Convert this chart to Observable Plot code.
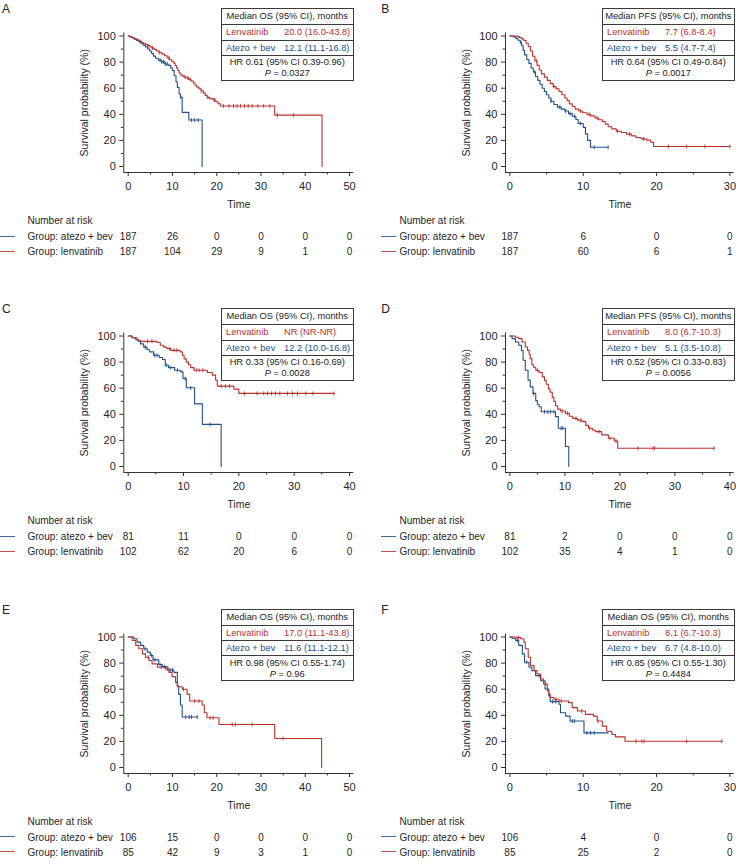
<!DOCTYPE html>
<html><head><meta charset="utf-8">
<script src="https://cdn.jsdelivr.net/npm/d3@7"></script>
<script src="https://cdn.jsdelivr.net/npm/@observablehq/plot@0.6"></script>
<style>
body{margin:0;background:#fff;font-family:"Liberation Sans",Arial,sans-serif;}
#root{position:relative;width:736px;height:862px;overflow:hidden;background:#fff;}
.panel{position:absolute;width:368px;height:300px;}
.panel svg{position:absolute;left:0;top:0;overflow:visible;}
.letter{position:absolute;top:3px;font-size:12px;line-height:12px;color:#222;}
.box{position:absolute;top:8.3px;width:132.5px;box-sizing:border-box;border:1px solid #3a3a3a;background:#fff;font-size:9.3px;color:#222;}
.box .r{position:relative;border-top:1px solid #3a3a3a;white-space:nowrap;}
.box .h{border-top:none;height:15px;line-height:15px;text-align:center;}
.box .l{height:14.7px;line-height:14.7px;}
.box .a{height:14px;line-height:14px;}
.box .nm{position:absolute;left:4px;}
.box .v{position:absolute;left:62px;}
.box .hr{height:25px;text-align:center;line-height:10.6px;padding-top:1.5px;box-sizing:border-box;}
.sw{position:absolute;width:15px;height:0;border-top:1.2px solid;}
</style></head><body><div id="root"></div>
<script>
// ---------- colours ----------
const RED = "#b9322e", BLUE = "#21508b";

// ---------- tick labels ----------
const ticks50 = [0, 10, 20, 30, 40, 50], minor50 = [5, 15, 25, 35, 45];
const ticks40 = [0, 10, 20, 30, 40], minor40 = [5, 15, 25, 35];
const ticks30 = [0, 10, 20, 30], minor30 = [5, 15, 25];
const yTicks = [0, 20, 40, 60, 80, 100], yMinor = [10, 30, 50, 70, 90];
const groupLabels = ["Group: atezo + bev", "Group: lenvatinib"];

// ---------- Panel A (OS) ----------
const aLen = [[0,100],[0.4,99.5],[0.8,98.9],[1.2,98.3],[1.6,97.6],[2.1,96.9],[2.6,96.1],[3.0,95.2],[3.4,94.4],[3.9,93.5],[4.4,92.6],[4.9,91.7],[5.4,90.7],[5.9,89.6],[6.4,88.5],[7.0,87.3],[7.6,86.1],[8.2,84.9],[8.8,83.3],[9.3,81.8],[9.8,80.6],[10.3,79.2],[10.6,77.4],[10.9,75.5],[11.2,73.6],[11.5,71.7],[11.9,70.0],[12.4,68.8],[13.0,67.9],[13.6,66.8],[14.2,65.5],[14.7,64.0],[15.1,62.3],[15.5,60.8],[16.0,59.5],[16.5,58.0],[17.0,56.2],[17.4,54.5],[17.8,53.0],[18.4,52.0],[19.2,51.0],[19.8,49.6],[20.3,48.1],[20.8,46.4],[33.1,39.4],[43.8,0]];
const aAtz = [[0,100],[0.4,99.3],[0.9,98.5],[1.4,97.6],[1.9,96.6],[2.4,95.5],[2.9,94.3],[3.4,93.0],[3.9,91.6],[4.4,90.0],[4.9,88.3],[5.3,86.5],[5.7,84.6],[6.2,83.0],[6.8,81.5],[7.5,80.2],[8.3,78.6],[9.0,77.5],[9.6,75.5],[10.0,73.5],[10.4,69.5],[10.8,65.0],[11.1,60.6],[11.5,55.5],[11.8,53.0],[12.2,41.5],[13.7,35.6],[16.7,0]];
const aLenCens = [4.5,5.5,7.0,9.2,12.8,13.5,14.0,16.5,18.0,19.5,21.5,22.8,23.8,24.6,25.4,26.3,27.1,28.0,29.3,30.6,32.0,33.7,37.4];
const aAtzCens = [7.2,7.6,8.0,8.4,8.8,11.9,14.3,15.0,15.8];
const aRiskAtz = [187, 26, 0, 0, 0, 0];
const aRiskLen = [187, 104, 29, 9, 1, 0];
const aStats = ["Median OS (95% CI), months", "20.0 (16.0-43.8)", "12.1 (11.1-16.8)", "HR 0.61 (95% CI 0.39-0.96)", "0.0327"];

// ---------- Panel B (PFS) ----------
const bLen = [[0,100],[1.0,99.5],[1.3,98.9],[1.6,97.8],[1.9,96.5],[2.2,94.5],[2.5,92.0],[2.8,88.5],[3.1,84.5],[3.4,81.0],[3.7,77.5],[4.0,74.0],[4.3,71.0],[4.7,68.5],[5.1,66.0],[5.5,63.5],[5.9,61.2],[6.3,59.5],[6.7,57.5],[7.1,55.0],[7.5,52.5],[7.8,50.5],[8.1,48.0],[8.5,46.0],[8.9,44.0],[9.4,42.5],[9.9,41.2],[10.5,40.0],[11.0,38.8],[11.6,37.2],[12.1,35.8],[12.6,34.5],[13.0,32.5],[13.4,30.5],[13.9,28.8],[14.5,27.0],[15.2,26.0],[15.9,24.8],[16.6,23.5],[17.2,22.2],[17.9,21.2],[18.6,20.2],[19.2,18.5],[19.6,15.3],[30.0,15.3]];
const bAtz = [[0,100],[0.5,99.3],[0.8,98.2],[1.1,96.8],[1.4,95.0],[1.6,92.5],[1.8,89.0],[2.0,85.5],[2.3,82.0],[2.6,79.0],[2.9,75.5],[3.2,72.5],[3.5,69.0],[3.8,66.0],[4.1,63.0],[4.4,60.0],[4.7,57.5],[5.0,55.0],[5.3,52.5],[5.6,50.0],[6.0,47.5],[6.5,45.5],[7.0,44.0],[7.5,42.5],[8.0,40.5],[8.5,38.5],[9.0,36.0],[9.3,33.0],[10.0,30.0],[10.3,25.0],[10.6,20.0],[11.0,14.8],[13.4,14.8]];
const bLenCens = [3.6,6.0,9.6,10.8,11.9,14.7,16.3,18.2,21.6,24.1,26.6,30.0];
const bAtzCens = [1.5,3.3,5.6,6.8,7.6,8.2,8.8,9.6,11.5,13.4];
const bRiskAtz = [187, 6, 0, 0];
const bRiskLen = [187, 60, 6, 1];
const bStats = ["Median PFS (95% CI), months", "7.7 (6.8-8.4)", "5.5 (4.7-7.4)", "HR 0.64 (95% CI 0.49-0.84)", "0.0017"];

// ---------- Panel C (OS) ----------
const cLen = [[0,100],[0.7,98.7],[1.6,96.7],[2.2,95.9],[5.2,95.0],[5.8,92.9],[6.4,91.5],[7.0,90.3],[7.7,89.0],[9.4,87.8],[9.8,85.2],[10.1,82.5],[10.5,80.0],[10.9,78.0],[11.3,75.8],[11.9,73.8],[14.3,72.0],[15.2,70.0],[15.8,66.2],[16.1,61.6],[19.1,59.3],[20.0,56.0],[37.2,56.0]];
const cAtz = [[0,100],[0.7,98.7],[1.3,97.5],[1.8,96.0],[2.2,94.0],[2.8,91.5],[3.4,89.5],[3.9,87.8],[4.6,85.2],[5.6,83.5],[6.2,82.0],[6.7,77.6],[7.3,75.8],[8.4,73.8],[9.5,72.5],[9.9,67.4],[10.5,60.3],[12.0,48.0],[13.4,32.3],[16.8,0]];
const cLenCens = [3.5,4.3,7.5,8.3,8.8,12.3,12.8,13.5,16.8,17.6,18.3,21.0,23.3,24.5,25.2,25.9,26.6,27.4,28.8,29.7,30.6,32.1,33.4,37.2];
const cAtzCens = [3.1,4.8,5.2,6.9,7.6,8.9,10.3,11.3,14.8];
const cRiskAtz = [81, 11, 0, 0, 0];
const cRiskLen = [102, 62, 20, 6, 0];
const cStats = ["Median OS (95% CI), months", "NR (NR-NR)", "12.2 (10.0-16.8)", "HR 0.33 (95% CI 0.16-0.69)", "0.0028"];

// ---------- Panel D (PFS) ----------
const dLen = [[0,100],[1.0,99.0],[1.6,98.0],[2.2,95.4],[2.8,91.6],[3.2,89.0],[3.5,86.0],[3.7,82.7],[4.0,78.0],[4.3,76.0],[4.7,73.8],[5.3,72.0],[5.9,68.7],[6.3,66.0],[6.6,63.0],[7.0,59.5],[7.3,57.0],[7.7,53.0],[8.0,50.0],[8.3,46.5],[8.7,44.0],[9.2,42.5],[10.1,40.7],[10.8,38.5],[11.4,36.9],[12.3,35.5],[13.1,34.4],[13.8,31.5],[14.3,29.3],[15.0,28.0],[15.5,26.7],[16.7,24.2],[17.9,21.6],[19.0,19.5],[19.6,14.0],[37.1,14.0]];
const dAtz = [[0,100],[0.4,98.0],[1.0,95.4],[1.6,92.9],[2.1,89.0],[2.4,81.4],[2.8,73.8],[3.3,66.2],[3.7,61.0],[4.2,56.0],[4.7,50.5],[5.0,47.5],[5.3,45.8],[5.7,42.0],[8.3,38.2],[8.8,29.3],[10.1,15.3],[10.7,0]];
const dLenCens = [5.0,9.5,10.5,12.0,12.8,14.5,16.2,18.2,19.3,23.3,26.0,26.3,37.1];
const dAtzCens = [4.3,6.3,6.9,7.4,8.0,9.3,9.6];
const dRiskAtz = [81, 2, 0, 0, 0];
const dRiskLen = [102, 35, 4, 1, 0];
const dStats = ["Median PFS (95% CI), months", "8.0 (6.7-10.3)", "5.1 (3.5-10.8)", "HR 0.52 (95% CI 0.33-0.83)", "0.0056"];

// ---------- Panel E (OS) ----------
const eLen = [[0,100],[0.9,97.4],[1.7,93.6],[2.4,91.0],[3.2,87.1],[3.9,84.5],[4.7,82.0],[5.4,79.4],[6.6,76.8],[8.4,75.5],[9.2,72.9],[9.9,69.6],[10.7,65.2],[11.1,61.9],[12.2,60.0],[13.3,56.2],[13.9,51.0],[16.7,47.9],[17.2,42.0],[17.8,38.1],[20.5,33.0],[33.1,22.2],[43.7,0]];
const eAtz = [[0,100],[1.3,98.7],[2.0,96.1],[2.8,93.6],[3.5,91.0],[4.3,88.4],[5.0,85.8],[5.6,82.5],[6.9,78.9],[7.7,77.3],[8.8,74.7],[10.3,72.9],[11.1,62.6],[11.4,56.2],[11.8,47.9],[12.2,38.7],[15.6,38.7]];
const eLenCens = [4.5,7.5,9.0,12.5,15.0,16.0,18.5,19.2,23.5,24.2,28.0,35.0];
const eAtzCens = [3.8,5.3,6.0,7.2,8.2,9.5,10.0,13.0,13.8,14.3,15.6];
const eRiskAtz = [106, 15, 0, 0, 0, 0];
const eRiskLen = [85, 42, 9, 3, 1, 0];
const eStats = ["Median OS (95% CI), months", "17.0 (11.1-43.8)", "11.6 (11.1-12.1)", "HR 0.98 (95% CI 0.55-1.74)", "0.96"];

// ---------- Panel F (OS) ----------
const fLen = [[0,100],[1.0,99.5],[1.45,98.7],[1.9,96.1],[2.1,91.0],[2.5,84.5],[2.8,78.1],[3.3,74.2],[3.7,71.6],[4.2,67.8],[4.6,63.9],[5.1,58.8],[5.3,56.2],[5.5,53.6],[6.0,52.3],[6.7,51.0],[8.0,49.7],[8.5,45.9],[9.2,43.3],[10.3,40.7],[11.4,39.4],[11.9,35.6],[12.6,31.7],[13.2,27.8],[13.9,25.3],[14.4,23.5],[15.7,20.1],[28.9,20.1]];
const fAtz = [[0,100],[0.3,99.0],[0.8,97.4],[1.2,93.6],[1.7,87.1],[2.0,80.7],[2.6,76.8],[3.0,74.2],[3.5,70.4],[4.2,66.5],[4.8,60.1],[5.3,54.9],[5.5,50.5],[6.7,48.5],[6.9,42.0],[7.6,39.4],[8.2,35.6],[10.1,26.5],[13.4,26.5]];
const fLenCens = [1.2,6.3,7.0,9.8,12.0,17.2,18.0,18.3,24.1,28.9];
const fAtzCens = [1.0,2.3,4.0,5.8,6.2,8.5,8.8,10.5,11.0,11.5];
const fRiskAtz = [106, 4, 0, 0];
const fRiskLen = [85, 25, 2, 0];
const fStats = ["Median OS (95% CI), months", "8.1 (6.7-10.3)", "6.7 (4.8-10.0)", "HR 0.85 (95% CI 0.55-1.30)", "0.4484"];

// ---------- assemble ----------
const panels = [
  {id:"A", col:0, row:0, ticks:ticks50, minor:minor50, len:aLen, atz:aAtz, lenC:aLenCens, atzC:aAtzCens, rA:aRiskAtz, rL:aRiskLen, stats:aStats},
  {id:"B", col:1, row:0, ticks:ticks30, minor:minor30, len:bLen, atz:bAtz, lenC:bLenCens, atzC:bAtzCens, rA:bRiskAtz, rL:bRiskLen, stats:bStats},
  {id:"C", col:0, row:1, ticks:ticks40, minor:minor40, len:cLen, atz:cAtz, lenC:cLenCens, atzC:cAtzCens, rA:cRiskAtz, rL:cRiskLen, stats:cStats},
  {id:"D", col:1, row:1, ticks:ticks40, minor:minor40, len:dLen, atz:dAtz, lenC:dLenCens, atzC:dAtzCens, rA:dRiskAtz, rL:dRiskLen, stats:dStats},
  {id:"E", col:0, row:2, ticks:ticks50, minor:minor50, len:eLen, atz:eAtz, lenC:eLenCens, atzC:eAtzCens, rA:eRiskAtz, rL:eRiskLen, stats:eStats},
  {id:"F", col:1, row:2, ticks:ticks30, minor:minor30, len:fLen, atz:fAtz, lenC:fLenCens, atzC:fAtzCens, rA:fRiskAtz, rL:fRiskLen, stats:fStats}
];

const colGeom = [
  {left:0,   mL:123.3, mR:14.7, boxX:221, letterX:2,  textX:27, swX:0},
  {left:368, mL:137,   mR:2.3,  boxX:234, letterX:13.3, textX:31, swX:13.3}
];
const rowTop = [0, 300, 600.5];

const censorSymbol = {draw(ctx, size){ const r = Math.sqrt(size / Math.PI); ctx.moveTo(0, -r); ctx.lineTo(0, r); }};
function survAt(steps, t){ let s = steps[0][1]; for (const [ti, si] of steps){ if (ti <= t) s = si; else break; } return s; }

const root = document.getElementById("root");
const FONT = '"Liberation Sans", Arial, sans-serif';
const TEXT = "#262626";

for (const p of panels){
  const g = colGeom[p.col];
  const div = document.createElement("div");
  div.className = "panel";
  div.style.left = g.left + "px";
  div.style.top = rowTop[p.row] + "px";
  root.appendChild(div);

  const xmax = p.ticks[p.ticks.length - 1];
  const riskA = p.ticks.map((t, i) => ({t, n: p.rA[i]}));
  const riskL = p.ticks.map((t, i) => ({t, n: p.rL[i]}));
  const curve = (steps, color) => Plot.line(steps, {x: d => d[0], y: d => d[1], curve: "step-after", stroke: color, strokeWidth: 1.1});
  const cens = (cs, steps, color) => Plot.dot(cs, {x: d => d, y: d => survAt(steps, d), symbol: censorSymbol, r: 2, fill: "none", stroke: color, strokeWidth: 0.9});
  const dxText = g.textX - g.mL;

  const svg = Plot.plot({
    width: 368, height: 265,
    marginLeft: g.mL, marginRight: g.mR, marginTop: 32.5, marginBottom: 93,
    x: {domain: [0, xmax], insetLeft: 4.4, insetRight: 4.3, axis: null},
    y: {domain: [0, 100], insetTop: 3, insetBottom: 6, axis: null},
    style: {fontFamily: FONT, fontSize: "11px", color: TEXT, background: "transparent", overflow: "visible"},
    marks: [
      Plot.ruleY([0], {dy: 6, stroke: "#333", strokeWidth: 1}),
      Plot.ruleX([0], {dx: -4.4, stroke: "#333", strokeWidth: 1}),
      Plot.axisY(yTicks, {tickSize: 4, tickPadding: 4, label: null, fontSize: 11, stroke: "#333"}),
      Plot.axisY(yMinor, {tickSize: 2.5, tickFormat: () => "", label: null, stroke: "#333"}),
      Plot.axisX(p.ticks, {tickSize: 4, tickPadding: 6, label: null, fontSize: 11, stroke: "#333"}),
      Plot.axisX(p.minor, {tickSize: 2.5, tickFormat: () => "", label: null, stroke: "#333"}),
      Plot.text(["Survival probability (%)"], {text: d => d, frameAnchor: "left", textAnchor: "middle", lineAnchor: "middle", rotate: -90, dx: -39.3, fontSize: 10.5, fill: TEXT}),
      Plot.text(["Time"], {text: d => d, frameAnchor: "bottom", lineAnchor: "middle", dy: 32, fontSize: 10.5, fill: TEXT}),
      curve(p.atz, BLUE),
      cens(p.atzC, p.atz, BLUE),
      curve(p.len, RED),
      cens(p.lenC, p.len, RED),
      Plot.text(["Number at risk"], {text: d => d, frameAnchor: "bottom-left", lineAnchor: "middle", dx: dxText, dy: 48.3, textAnchor: "start", fontSize: 10, fill: TEXT}),
      Plot.text([groupLabels[0]], {text: d => d, frameAnchor: "bottom-left", lineAnchor: "middle", dx: dxText, dy: 64.5, textAnchor: "start", fontSize: 10, fill: TEXT}),
      Plot.text([groupLabels[1]], {text: d => d, frameAnchor: "bottom-left", lineAnchor: "middle", dx: dxText, dy: 79.5, textAnchor: "start", fontSize: 10, fill: TEXT}),
      Plot.text(riskA, {x: "t", text: d => String(d.n), frameAnchor: "bottom", lineAnchor: "middle", dy: 64.5, fontSize: 10, fill: TEXT}),
      Plot.text(riskL, {x: "t", text: d => String(d.n), frameAnchor: "bottom", lineAnchor: "middle", dy: 79.5, fontSize: 10, fill: TEXT})
    ]
  });
  div.appendChild(svg);

  // legend swatches for the risk table
  [[BLUE, 236.5], [RED, 251.5]].forEach(([c, y]) => {
    const s = document.createElement("div");
    s.className = "sw";
    s.style.left = g.swX + "px";
    s.style.top = (y - 0.6) + "px";
    s.style.borderTopColor = c;
    s.style.opacity = 0.85;
    div.appendChild(s);
  });

  // panel letter
  const L = document.createElement("div");
  L.className = "letter";
  L.style.left = g.letterX + "px";
  L.textContent = p.id;
  div.appendChild(L);

  // statistics box
  const box = document.createElement("div");
  box.className = "box";
  box.style.left = g.boxX + "px";
  box.innerHTML =
    `<div class="r h">${p.stats[0]}</div>` +
    `<div class="r l" style="color:${RED}"><span class="nm">Lenvatinib</span><span class="v">${p.stats[1]}</span></div>` +
    `<div class="r a" style="color:${BLUE}"><span class="nm">Atezo + bev</span><span class="v">${p.stats[2]}</span></div>` +
    `<div class="r hr"><div>${p.stats[3]}</div><div><i>P</i> = ${p.stats[4]}</div></div>`;
  div.appendChild(box);
}
</script></body></html>
